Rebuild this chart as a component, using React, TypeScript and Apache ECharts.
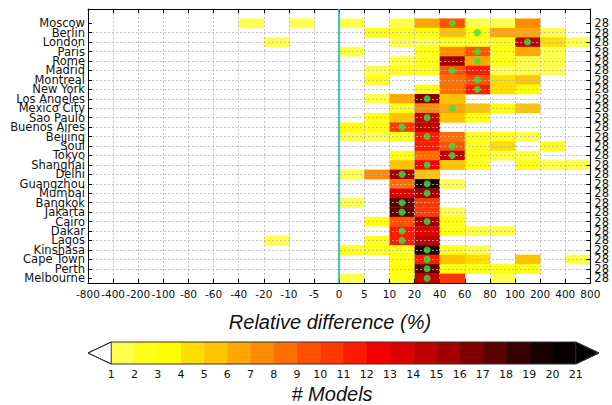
import { useEffect, useRef } from "react";
import * as echarts from "echarts";

const cities = [
  "Moscow", "Berlin", "London", "Paris", "Rome", "Madrid", "Montreal", "New York",
  "Los Angeles", "Mexico City", "Sao Paulo", "Buenos Aires", "Beijing", "Soul",
  "Tokyo", "Shanghai", "Delhi", "Guangzhou", "Mumbai", "Bangkok", "Jakarta",
  "Cairo", "Dakar", "Lagos", "Kinshasa", "Cape Town", "Perth", "Melbourne",
];

// Edges of the relative-difference bins (%)
const binEdges = [
  "-800", "-400", "-200", "-100", "-80", "-60", "-40", "-20", "-10", "-5",
  "0", "5", "10", "20", "40", "60", "80", "100", "200", "400", "800",
];

// Number of models falling in each of the 20 bins, one row per city
const modelCounts = [
  [0, 0, 0, 0, 0, 0, 1, 0, 1, 0, 1, 0, 1, 6, 9, 1, 1, 7, 0, 0], // Moscow
  [0, 0, 0, 0, 0, 0, 0, 0, 0, 0, 0, 2, 2, 3, 5, 3, 6, 6, 1, 0], // Berlin
  [0, 0, 0, 0, 0, 0, 0, 1, 0, 0, 0, 0, 1, 1, 2, 2, 2, 14, 4, 1], // London
  [0, 0, 0, 0, 0, 0, 0, 0, 0, 0, 1, 0, 0, 2, 7, 9, 2, 6, 1, 0], // Paris
  [0, 0, 0, 0, 0, 0, 0, 0, 0, 0, 0, 0, 1, 2, 15, 6, 2, 1, 1, 0], // Rome
  [0, 0, 0, 0, 0, 0, 0, 0, 0, 0, 0, 1, 2, 2, 9, 11, 1, 1, 1, 0], // Madrid
  [0, 0, 0, 0, 0, 0, 0, 0, 0, 0, 0, 2, 0, 0, 8, 9, 4, 5, 0, 0], // Montreal
  [0, 0, 0, 0, 0, 0, 0, 0, 0, 0, 0, 0, 0, 2, 8, 11, 4, 3, 0, 0], // New York
  [0, 0, 0, 0, 0, 0, 0, 0, 0, 0, 0, 1, 6, 16, 5, 0, 0, 0, 0, 0], // Los Angeles
  [0, 0, 0, 0, 0, 0, 0, 0, 0, 0, 0, 0, 2, 7, 6, 5, 3, 5, 0, 0], // Mexico City
  [0, 0, 0, 0, 0, 0, 0, 0, 0, 0, 0, 2, 5, 14, 5, 2, 0, 0, 0, 0], // Sao Paulo
  [0, 0, 0, 0, 0, 0, 0, 0, 0, 0, 2, 2, 10, 14, 0, 0, 0, 0, 0, 0], // Buenos Aires
  [0, 0, 0, 0, 0, 0, 0, 0, 0, 0, 1, 1, 2, 11, 8, 2, 2, 1, 0, 0], // Beijing
  [0, 0, 0, 0, 0, 0, 0, 0, 0, 0, 0, 0, 0, 11, 9, 2, 4, 0, 2, 0], // Soul
  [0, 0, 0, 0, 0, 0, 0, 0, 0, 0, 0, 0, 2, 8, 14, 2, 1, 1, 0, 0], // Tokyo
  [0, 0, 0, 0, 0, 0, 0, 0, 0, 0, 0, 0, 5, 12, 5, 2, 0, 2, 1, 1], // Shanghai
  [0, 0, 0, 0, 0, 0, 0, 0, 0, 0, 1, 7, 15, 5, 0, 0, 0, 0, 0, 0], // Delhi
  [0, 0, 0, 0, 0, 0, 0, 0, 0, 0, 0, 0, 8, 19, 1, 0, 0, 0, 0, 0], // Guangzhou
  [0, 0, 0, 0, 0, 0, 0, 0, 0, 0, 0, 0, 13, 15, 0, 0, 0, 0, 0, 0], // Mumbai
  [0, 0, 0, 0, 0, 0, 0, 0, 0, 0, 1, 0, 17, 10, 0, 0, 0, 0, 0, 0], // Bangkok
  [0, 0, 0, 0, 0, 0, 0, 0, 0, 0, 0, 0, 17, 10, 1, 0, 0, 0, 0, 0], // Jakarta
  [0, 0, 0, 0, 0, 0, 0, 0, 0, 0, 0, 2, 9, 15, 2, 0, 0, 0, 0, 0], // Cairo
  [0, 0, 0, 0, 0, 0, 0, 0, 0, 0, 0, 0, 11, 13, 2, 1, 1, 0, 0, 0], // Dakar
  [0, 0, 0, 0, 0, 0, 0, 1, 0, 0, 0, 2, 11, 14, 0, 0, 0, 0, 0, 0], // Lagos
  [0, 0, 0, 0, 0, 0, 0, 0, 0, 0, 2, 2, 2, 19, 2, 1, 0, 0, 0, 0], // Kinshasa
  [0, 0, 0, 0, 0, 0, 0, 0, 0, 0, 0, 0, 2, 11, 5, 4, 0, 5, 0, 1], // Cape Town
  [0, 0, 0, 0, 0, 0, 0, 0, 0, 0, 0, 0, 3, 17, 2, 2, 2, 2, 0, 0], // Perth
  [0, 0, 0, 0, 0, 0, 0, 0, 0, 0, 1, 0, 2, 14, 10, 0, 1, 0, 0, 0], // Melbourne
];

// Bin holding the ensemble median, per city
const medianBin = [
  14, 15, 17, 15, 15, 14, 15, 15, 13, 14, 13, 12, 13, 14,
  14, 13, 12, 13, 13, 12, 12, 13, 12, 12, 13, 13, 13, 13,
];

// Discrete colour levels for 1..21 models (yellow -> red -> black)
const countColors = [
  "#ffff4d", "#ffff1a", "#ffff00", "#ffdd00", "#ffc400", "#ffa600", "#ff8c00",
  "#ff7000", "#ff5200", "#ff3800", "#ff1a00", "#f50000", "#dc0000", "#c00000",
  "#a00000", "#800000", "#5c0000", "#380000", "#1a0000", "#080000",
];
const underColor = "#ffffff";
const overColor = "#000000";

const colorFor = (c: number) =>
  c < 1 ? underColor : c > countColors.length ? overColor : countColors[c - 1];

const nRows = cities.length;
const rowY = (i: number) => nRows - 1 - i;
const rowTicks = cities.map((_, i) => i);
const rowTotals = modelCounts.map((r) => r.reduce((a, b) => a + b, 0));
const zeroBin = binEdges.indexOf("0");
const colorbarTicks = Array.from({ length: countColors.length + 1 }, (_, i) => i + 1);

// Row labels from the bottom up, plus the blank band above the first city
const leftLabels = [...cities].reverse().concat([""]);
const rightLabels = [...rowTotals].reverse().map(String).concat([""]);

export default function App() {
  const ref = useRef<HTMLDivElement>(null);

  useEffect(() => {
    if (!ref.current) return;
    const chart = echarts.init(ref.current, undefined, { renderer: "svg" });

    const cellData: number[][] = [];
    modelCounts.forEach((row, i) =>
      row.forEach((c, b) => {
        if (c > 0) cellData.push([b, rowY(i), c]);
      })
    );
    const medianData = medianBin.map((b, i) => [b + 0.5, rowY(i)]);

    const frameLine = { show: true, onZero: false, lineStyle: { color: "#000", width: 1 } };
    const innerTick = { show: true, inside: true, length: 4, lineStyle: { color: "#000", width: 1 } };
    const gridDots = {
      show: true,
      showMinLine: false,
      showMaxLine: false,
      lineStyle: { color: "#b4b4b4", type: [2, 2] as number[], width: 0.8 },
    };

    chart.setOption({
      animation: false,
      backgroundColor: "#ffffff",
      textStyle: { fontFamily: "DejaVu Sans" },
      grid: [
        { left: 88, top: 9, width: 508, height: 274 },
        { left: 88, top: 342, width: 511, height: 22 },
      ],
      xAxis: [
        {
          type: "value", gridIndex: 0, min: 0, max: binEdges.length - 1, interval: 1,
          position: "bottom", z: 3,
          axisLine: frameLine, axisTick: innerTick,
          axisLabel: {
            formatter: (v: number) => binEdges[Math.round(v)] ?? "",
            fontSize: 10.5, color: "#111", margin: 5,
            showMinLabel: true, showMaxLabel: true,
          },
          splitLine: gridDots,
        },
        {
          type: "value", gridIndex: 0, min: 0, max: binEdges.length - 1, interval: 1,
          position: "top", z: 3,
          axisLine: frameLine, axisTick: innerTick,
          axisLabel: { show: false }, splitLine: { show: false },
        },
        {
          type: "value", gridIndex: 1, min: 0, max: countColors.length + 2, interval: 1,
          axisLine: { show: false },
          axisTick: {
            show: true, inside: true, length: 4, customValues: colorbarTicks,
            lineStyle: { color: "#333", width: 1 },
          },
          axisLabel: {
            customValues: colorbarTicks, fontSize: 11, color: "#111", margin: 5,
            showMinLabel: true, showMaxLabel: true,
            formatter: (v: number) => String(v),
          },
          splitLine: { show: false },
        },
      ],
      yAxis: [
        {
          // value scale used by the cells, ticks and dotted row lines
          type: "value", gridIndex: 0, min: -0.5, max: nRows + 0.5, position: "left", z: 3,
          axisLine: frameLine,
          axisTick: { ...innerTick, customValues: rowTicks },
          axisLabel: { show: false },
          splitLine: gridDots,
        },
        {
          // city names
          type: "category", gridIndex: 0, position: "left", data: leftLabels, z: 3,
          axisLine: { show: false }, axisTick: { show: false }, splitLine: { show: false },
          axisLabel: { interval: 0, fontSize: 11.5, color: "#111", margin: 3 },
        },
        {
          // model totals on the right frame
          type: "category", gridIndex: 0, position: "right", data: rightLabels, z: 3,
          axisLine: frameLine,
          axisTick: {
            show: true, inside: true, length: 4, alignWithLabel: true,
            interval: (idx: number) => idx < nRows,
            lineStyle: { color: "#000", width: 1 },
          },
          splitLine: { show: false },
          axisLabel: { interval: 0, fontSize: 11.5, color: "#111", margin: 4 },
        },
        { type: "value", gridIndex: 1, min: 0, max: 1, show: false },
      ],
      series: [
        {
          type: "custom",
          xAxisIndex: 0, yAxisIndex: 0, z: 2,
          encode: { x: 0, y: 1 },
          data: cellData,
          renderItem: (_p: any, api: any) => {
            const b = api.value(0), y = api.value(1), c = api.value(2);
            const a = api.coord([b, y + 0.5]);
            const d = api.coord([b + 1, y - 0.5]);
            return {
              type: "rect",
              shape: { x: a[0], y: a[1], width: d[0] - a[0] + 0.3, height: d[1] - a[1] + 0.3 },
              style: { fill: colorFor(c) },
            };
          },
        },
        {
          type: "scatter",
          xAxisIndex: 0, yAxisIndex: 0, z: 5,
          symbol: "circle", symbolSize: 7,
          itemStyle: { color: "#3ae23a" },
          data: medianData,
          markLine: {
            silent: true, symbol: "none", label: { show: false },
            lineStyle: { color: "#1fb3c2", width: 1.6, type: "solid" },
            data: [{ xAxis: zeroBin }],
          },
        },
        {
          type: "custom",
          xAxisIndex: 2, yAxisIndex: 3, z: 2,
          data: countColors.map((_, i) => [i + 1, i + 2]),
          renderItem: (p: any, api: any) => {
            const a = api.coord([api.value(0), 1]);
            const d = api.coord([api.value(1), 0]);
            return {
              type: "rect",
              shape: { x: a[0], y: a[1], width: d[0] - a[0] + 0.5, height: d[1] - a[1] },
              style: { fill: countColors[p.dataIndex] },
            };
          },
        },
        {
          type: "custom",
          xAxisIndex: 2, yAxisIndex: 3, z: 3,
          data: [
            [1, 0],
            [countColors.length + 1, countColors.length + 2],
          ],
          renderItem: (p: any, api: any) => {
            const base = api.value(0), tip = api.value(1);
            return {
              type: "polygon",
              shape: { points: [api.coord([base, 1]), api.coord([tip, 0.5]), api.coord([base, 0])] },
              style: { fill: p.dataIndex === 0 ? underColor : overColor, stroke: "#333", lineWidth: 1 },
            };
          },
        },
        {
          type: "custom",
          xAxisIndex: 2, yAxisIndex: 3, z: 4,
          data: [[0]],
          renderItem: (_p: any, api: any) => {
            const n = countColors.length;
            const pts = [[0, 0.5], [1, 1], [n + 1, 1], [n + 2, 0.5], [n + 1, 0], [1, 0]].map((q) =>
              api.coord(q)
            );
            return {
              type: "polygon",
              shape: { points: pts },
              style: { fill: "none", stroke: "#333", lineWidth: 1 },
            };
          },
        },
      ],
      graphic: [
        {
          type: "text", x: 330, y: 322, z: 10,
          style: {
            text: "Relative difference (%)",
            font: "italic 20px 'Liberation Sans'", fill: "#111",
            textAlign: "center", textVerticalAlign: "middle",
          },
        },
        {
          type: "text", x: 332, y: 394, z: 10,
          style: {
            text: "# Models",
            font: "italic 20px 'Liberation Sans'", fill: "#111",
            textAlign: "center", textVerticalAlign: "middle",
          },
        },
      ],
    });

    return () => chart.dispose();
  }, []);

  return (
    <div
      ref={ref}
      style={{ position: "fixed", left: 0, top: 0, width: 612, height: 405, background: "#fff" }}
    />
  );
}
